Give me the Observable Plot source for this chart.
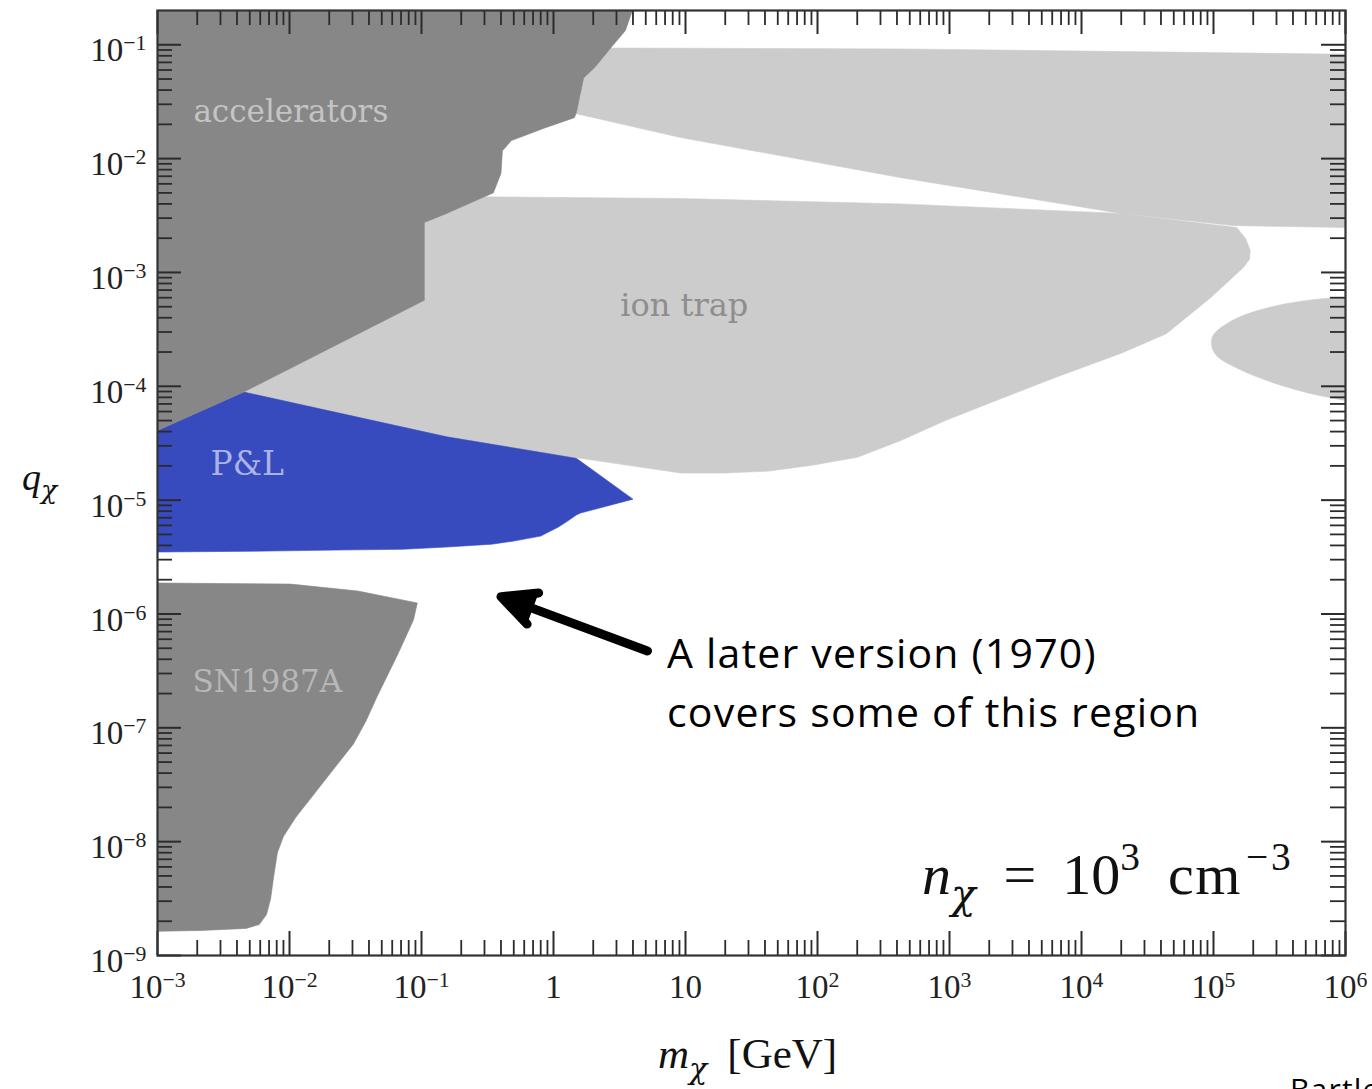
<!DOCTYPE html>
<html>
<head>
<meta charset="utf-8">
<script src="https://cdn.jsdelivr.net/npm/d3@7"></script>
<script src="https://cdn.jsdelivr.net/npm/@observablehq/plot@0.6"></script>
<style>
  body { margin: 0; background: #fff; }
  #wrap { position: relative; width: 1372px; height: 1089px; overflow: hidden; }
  .ov { position: absolute; white-space: nowrap; line-height: 1; }
  .math { font-family: "Liberation Serif", serif; color: #111; }
  .math sub { font-size: 0.7em; vertical-align: -0.35em; line-height: 0; }
  .math sup { font-size: 0.68em; vertical-align: 0.62em; line-height: 0; }
  .chi { font-family: "DejaVu Serif", serif; font-style: italic; }
  .note { font-family: "Open Sans", sans-serif; color: #000; letter-spacing: 1.2px; }
</style>
</head>
<body>
<div id="wrap"></div>
<script>
// ---------- data (m in GeV, q in units of e) ----------
const xDecades = [1e-3, 1e-2, 1e-1, 1, 10, 1e2, 1e3, 1e4, 1e5, 1e6];
const yDecades = [1e-9, 1e-8, 1e-7, 1e-6, 1e-5, 1e-4, 1e-3, 1e-2, 1e-1];
const minorMultipliers = [2, 3, 4, 5, 6, 7, 8, 9];

const accelerators = [
  [1e-3, 0.2], [3.96, 0.2], [3.5, 0.133], [2.8, 0.098], [2.05, 0.063], [1.69, 0.051],
  [1.49, 0.0254], [1.44, 0.0229], [0.87, 0.0187], [0.48, 0.0144], [0.41, 0.0117],
  [0.40, 0.0074], [0.35, 0.0050], [0.29, 0.00455], [0.155, 0.0033], [0.105, 0.00275],
  [0.105, 5.7e-4], [4.5e-3, 8.9e-5], [1e-3, 4.1e-5]
];
const ionTrapUpper = [
  [0.8, 0.094], [430, 0.092], [6.7e5, 0.083], [1e6, 0.083], [1e6, 0.00248],
  [1.4e5, 0.00258], [2.0e4, 0.0033], [430, 0.0068], [9.2, 0.0153], [1.49, 0.0248], [0.8, 0.0248]
];
const ionTrapMain = [
  [0.14, 0.00465], [9.2, 0.00446], [430, 0.0040], [2.0e4, 0.0033], [1.5e5, 0.00248],
  [1.75e5, 0.00199], [1.9e5, 0.00156], [1.87e5, 1.30e-3], [1.69e5, 1.11e-3], [1.39e5, 9.0e-4],
  [9.5e4, 6.0e-4], [4.4e4, 2.9e-4], [2.0e4, 1.95e-4], [6.4e3, 1.2e-4], [2.0e3, 7.1e-5],
  [930, 5.0e-5], [433, 3.36e-5], [201, 2.38e-5], [92, 2.03e-5], [43, 1.80e-5], [20, 1.73e-5],
  [9.2, 1.73e-5], [1.6, 2.33e-5], [0.155, 3.4e-5], [4.5e-3, 8.7e-5], [0.012, 5.7e-4]
];
const ionTrapRight = [
  [1e6, 6.0e-4], [8.1e5, 6.0e-4], [3.0e5, 5.1e-4], [1.4e5, 3.8e-4], [9.8e4, 2.7e-4],
  [1.02e5, 1.95e-4], [1.63e5, 1.38e-4], [4.4e5, 9.2e-5], [1e6, 7.5e-5]
];
const pandL = [
  [1e-3, 4.1e-5], [4.5e-3, 8.9e-5], [0.155, 3.6e-5], [1.49, 2.33e-5], [4.0, 1.02e-5],
  [1.6, 7.7e-6], [1.49, 7.4e-6], [1.28, 6.55e-6], [1.09, 5.8e-6], [0.8, 4.83e-6],
  [0.5, 4.37e-6], [0.34, 4.1e-6], [0.155, 3.87e-6], [0.072, 3.7e-6], [0.0223, 3.64e-6],
  [6.9e-3, 3.57e-6], [1e-3, 3.5e-6]
];
const sn1987a = [
  [1e-3, 1.87e-6], [0.0102, 1.83e-6], [0.033, 1.59e-6], [0.093, 1.25e-6], [0.087, 8.9e-7],
  [0.077, 6.5e-7], [0.066, 4.4e-7], [0.056, 2.98e-7], [0.046, 1.87e-7], [0.038, 1.15e-7],
  [0.0305, 7.2e-8], [0.0223, 4.55e-8], [0.0152, 2.58e-8], [0.0111, 1.62e-8], [9.0e-3, 1.11e-8],
  [8.1e-3, 8.0e-9], [7.6e-3, 5.0e-9], [7.2e-3, 3.16e-9], [6.7e-3, 2.29e-9], [5.9e-3, 1.87e-9],
  [4.7e-3, 1.73e-9], [2.15e-3, 1.66e-9], [1e-3, 1.63e-9]
];
const labelNames = ["accelerators", "ion trap", "P&L", "SN1987A"];
const labelM = [1.87e-3, 9.8, 2.52e-3, 1.84e-3];
const labelQ = [0.0254, 5.14e-4, 2.07e-5, 2.53e-7];
const labelColors = ["#c4c4c4", "#8e8e8e", "#aab4e4", "#b8b8b8"];
const labelAnchors = ["start", "middle", "start", "start"];
const arrowTail = [5.15, 4.73e-7];
const arrowTip = [0.351, 1.50e-6];

// ---------- layout ----------
const width = 1372, height = 1089;
const mT = 10, mR = 27, mB = 134, mL = 157;
const W = width - mL - mR, H = height - mT - mB;

const xMinor = xDecades.slice(0, -1).flatMap(d => minorMultipliers.map(k => k * d));
const yMinor = yDecades.flatMap(d => minorMultipliers.map(k => k * d)).filter(v => v < 0.199);

const fmt = d => {
  const e = Math.round(Math.log10(d));
  if (e === 0) return "1";
  if (e === 1) return "10";
  return "10^" + (e < 0 ? "\u2212" + (-e) : String(e));
};
const tickStroke = "#2b2b2b";
const serif = "Liberation Serif";
const labelFont = "DejaVu Serif";
const poly = (data, fill) => Plot.line(data, {x: d => d[0], y: d => d[1], fill, stroke: fill, strokeWidth: 0.6, curve: "linear"});

const chart = Plot.plot({
  width, height,
  marginTop: mT, marginRight: mR, marginBottom: mB, marginLeft: mL,
  style: {fontFamily: serif, background: "white"},
  x: {type: "log", domain: [1e-3, 1e6], label: null},
  y: {type: "log", domain: [1e-9, 0.2], label: null},
  marks: [
    poly(ionTrapUpper, "#cccccc"),
    poly(ionTrapMain, "#cccccc"),
    Plot.line(ionTrapRight, {x: d => d[0], y: d => d[1], fill: "#cccccc", stroke: "#cccccc", strokeWidth: 0.6, curve: "catmull-rom"}),
    poly(pandL, "#374bbf"),
    poly(accelerators, "#878787"),
    poly(sn1987a, "#878787"),
    ...labelNames.map((name, i) => Plot.text([name], {
      x: [labelM[i]], y: [labelQ[i]], text: d => d, fill: labelColors[i],
      fontSize: i === 2 ? 33 : (i === 1 ? 32 : 31), fontFamily: labelFont, textAnchor: labelAnchors[i]
    })),
    // ticks (inward, all four sides)
    Plot.tickX(xDecades, {x: d => d, insetTop: H - 24, stroke: tickStroke, strokeWidth: 2}),
    Plot.tickX(xMinor, {x: d => d, insetTop: H - 15, stroke: tickStroke, strokeWidth: 1.8}),
    Plot.tickX(xDecades, {x: d => d, insetBottom: H - 24, stroke: tickStroke, strokeWidth: 2}),
    Plot.tickX(xMinor, {x: d => d, insetBottom: H - 15, stroke: tickStroke, strokeWidth: 1.8}),
    Plot.tickY(yDecades, {y: d => d, insetRight: W - 24, stroke: tickStroke, strokeWidth: 2}),
    Plot.tickY(yMinor, {y: d => d, insetRight: W - 15, stroke: tickStroke, strokeWidth: 1.8}),
    Plot.tickY(yDecades, {y: d => d, insetLeft: W - 24, stroke: tickStroke, strokeWidth: 2}),
    Plot.tickY(yMinor, {y: d => d, insetLeft: W - 15, stroke: tickStroke, strokeWidth: 1.8}),
    Plot.frame({stroke: "#333", strokeWidth: 2.2}),
    Plot.axisX(xDecades, {anchor: "bottom", tickSize: 0, tickPadding: 19, tickFormat: fmt, fontSize: 33, fill: "#222"}),
    Plot.axisY(yDecades, {anchor: "left", tickSize: 0, tickPadding: 11, tickFormat: fmt, fontSize: 33, dy: 6, fill: "#222"}),
    Plot.arrow([{x1: arrowTail[0], y1: arrowTail[1], x2: arrowTip[0], y2: arrowTip[1]}], {
      x1: "x1", y1: "y1", x2: "x2", y2: "y2", stroke: "black", fill: "black",
      strokeWidth: 9, headLength: 6.3, headAngle: 52, insetEnd: 8, strokeLinejoin: "miter"
    })
  ]
});

// superscripts for tick labels
const NS = "http://www.w3.org/2000/svg";
chart.querySelectorAll("text").forEach(t => {
  const s = t.textContent;
  const m = s.match(/^10\^(.+)$/);
  if (m) {
    t.textContent = "10";
    const ts = document.createElementNS(NS, "tspan");
    ts.setAttribute("font-size", "0.66em");
    ts.setAttribute("dy", "-0.5em");
    ts.textContent = m[1];
    t.appendChild(ts);
  }
});

const wrap = document.getElementById("wrap");
wrap.appendChild(chart);

function overlay(html, cls, left, top, size) {
  const d = document.createElement("div");
  d.className = "ov " + cls;
  d.style.left = left + "px";
  d.style.top = top + "px";
  d.style.fontSize = size + "px";
  d.innerHTML = html;
  wrap.appendChild(d);
}
overlay('<i>q</i><sub class="chi">\u03c7</sub>', "math", 22, 458, 38);
overlay('<i>m</i><sub class="chi">\u03c7</sub><span style="margin-left:20px">[GeV]</span>', "math", 658, 1032, 43);
overlay('<i>n</i><sub class="chi">\u03c7</sub><span style="margin:0 26px 0 28px">=</span>10<sup>3</sup><span style="margin-left:28px;letter-spacing:1.5px">cm</span><sup style="margin-left:4px;letter-spacing:3px">\u22123</sup>', "math", 922, 846, 58);
overlay('A later version (1970)', "note", 667, 632, 41);
overlay('covers some of this region', "note", 667, 691, 41);
overlay('Bartlett', "note", 1290, 1074, 30);
</script>
</body>
</html>
